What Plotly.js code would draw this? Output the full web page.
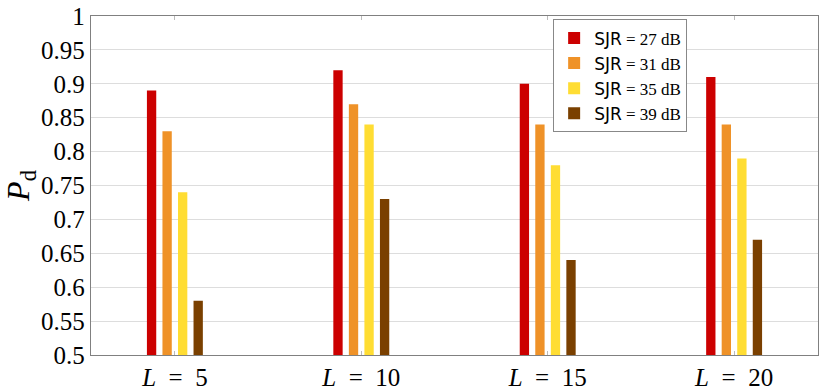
<!DOCTYPE html>
<html>
<head>
<meta charset="utf-8">
<script src="https://cdn.plot.ly/plotly-3.0.1.min.js"></script>
<style>
  html, body { margin: 0; padding: 0; background: #fff; }
  #plot { width: 822px; height: 390px; }
</style>
</head>
<body>
<div id="plot"></div>
<script>
// detection probability per window length, one list per SJR level
let lengths = ['<i>L</i>\u2002=\u20025', '<i>L</i>\u2002=\u200210', '<i>L</i>\u2002=\u200215', '<i>L</i>\u2002=\u200220']
let sjrNames = ['27', '31', '35', '39']
let pd27 = [0.89, 0.92, 0.90, 0.91]
let pd31 = [0.83, 0.87, 0.84, 0.84]
let pd35 = [0.74, 0.84, 0.78, 0.79]
let pd39 = [0.58, 0.73, 0.64, 0.67]

let series = [pd27, pd31, pd35, pd39]
let colors = ['#cc0000', '#ef9228', '#ffdd33', '#7a4000']
let offsets = [-0.15, -0.0667, 0.0167, 0.1] // left edge of each bar inside the group

let serif = "'Liberation Serif', 'Times New Roman', 'DejaVu Serif', serif"

let data = []
for (var i = 0; i < series.length; i++)
{
    data.push({
        type: 'bar',
        x: lengths,
        y: series[i],
        width: 0.05,
        offset: offsets[i],
        name: "<span style=\"font-family:'DejaVu Sans'\">SJR</span> = " + sjrNames[i] + ' dB',
        marker: { color: colors[i], line: { width: 0 } }
    })
}

let layout = {
    width: 822,
    height: 390,
    barmode: 'overlay',
    showlegend: true,
    paper_bgcolor: '#fff',
    plot_bgcolor: '#fff',
    font: { family: serif, size: 24, color: '#000' },
    margin: { l: 91, r: 4, t: 16, b: 35, pad: 0 },
    xaxis: {
        type: 'category',
        range: [-0.45, 3.45],
        showgrid: false,
        showline: true,
        linecolor: '#808080',
        linewidth: 1.3,
        mirror: 'ticks',
        ticks: 'inside',
        ticklen: 4,
        tickcolor: '#bbbbbb',
        tickfont: { family: serif, size: 25 },
        automargin: false
    },
    yaxis: {
        range: [0.5, 1],
        tickvals: [0.5, 0.55, 0.6, 0.65, 0.7, 0.75, 0.8, 0.85, 0.9, 0.95, 1],
        ticktext: ['0.5', '0.55', '0.6', '0.65', '0.7', '0.75', '0.8', '0.85', '0.9', '0.95', '1'],
        showgrid: true,
        gridcolor: '#dddddd',
        gridwidth: 1,
        zeroline: false,
        showline: true,
        linecolor: '#808080',
        linewidth: 1.3,
        mirror: true,
        ticks: '',
        tickfont: { family: serif, size: 25 },
        automargin: false,
        title: { text: '<i>P</i><sub>d</sub>', font: { family: serif, size: 32 }, standoff: 6 }
    },
    legend: {
        x: 0.82,
        xanchor: 'right',
        y: 0.99,
        yanchor: 'top',
        bgcolor: '#fff',
        bordercolor: '#888',
        borderwidth: 1,
        font: { family: serif, size: 17 },
        tracegroupgap: 0,
        itemwidth: 30
    }
}

Plotly.newPlot('plot', data, layout, { displayModeBar: false, staticPlot: true })
</script>
</body>
</html>
